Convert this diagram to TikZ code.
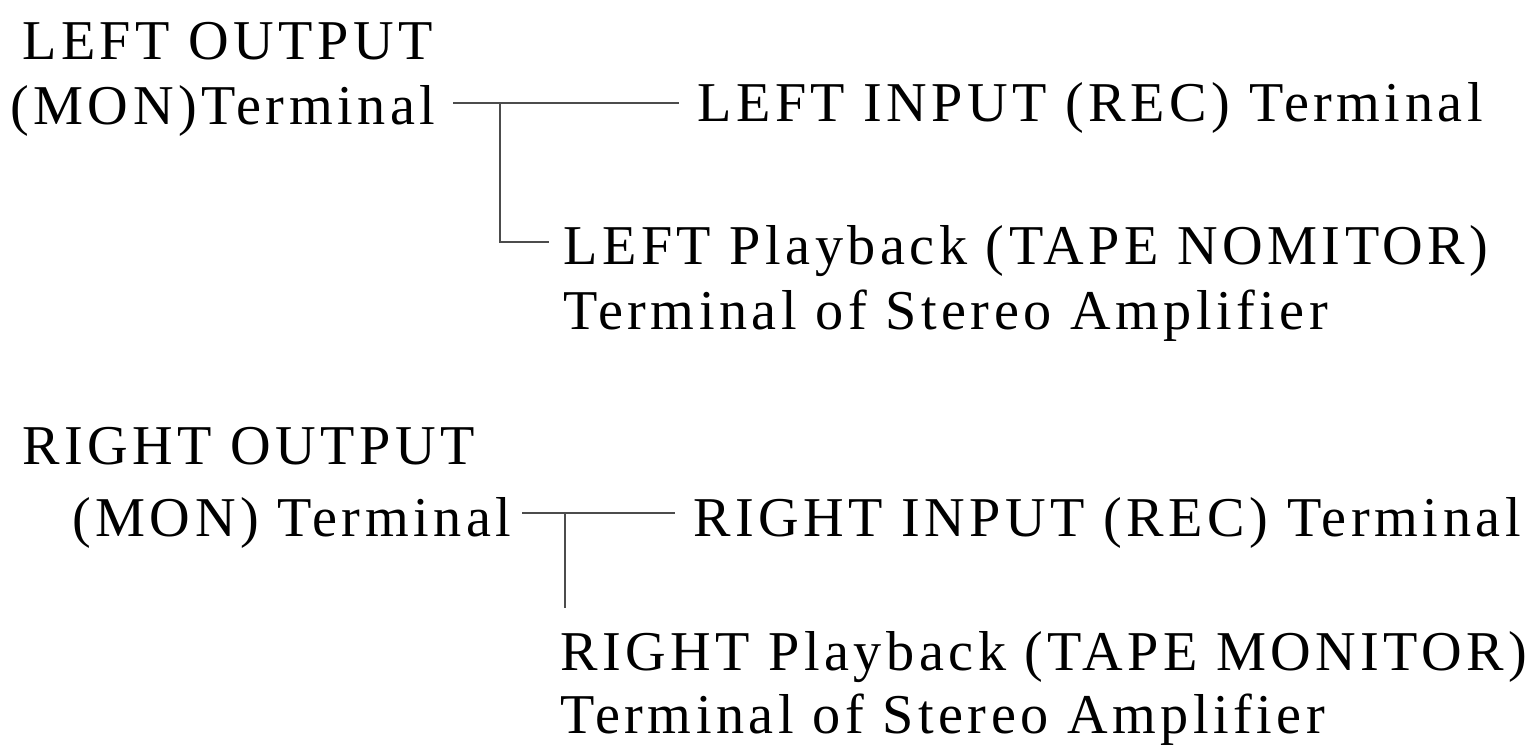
\documentclass[tikz,border=0pt]{standalone}
\usepackage{fontspec}
\setmainfont{Liberation Serif}[LetterSpace=8]
\usetikzlibrary{positioning}

\begin{document}
\begin{tikzpicture}[x=0.02cm,y=-0.02cm,
  lbl/.style={anchor=base west,inner sep=0pt,font=\fontsize{32}{37}\selectfont},
  wire/.style={draw=black!70,line width=0.9pt}]
\useasboundingbox (0,0) rectangle (1538,749);
% left channel
\node[lbl] (lout1) at (22,60) {LEFT OUTPUT};
\node[lbl] (lout2) at (10,125) {(MON)Terminal};
\node[lbl] (lin) at (697,122) {LEFT INPUT (REC) Terminal};
\node[lbl] (lpb1) at (563,265) {LEFT Playback (TAPE NOMITOR)};
\node[lbl] (lpb2) at (563,330) {Terminal of Stereo Amplifier};
\coordinate (lj) at (500,103);
\draw[wire] ([xshift=10]lout2.east |- lj) -- ([xshift=-10]lin.west |- lj);
\draw[wire] (lj) |- ([xshift=-8]lpb1.west |- 0,242);
% right channel
\node[lbl] (rout1) at (22,465) {RIGHT OUTPUT};
\node[lbl] (rout2) at (72,537) {(MON) Terminal};
\node[lbl] (rin) at (693,537) {RIGHT INPUT (REC) Terminal};
\node[lbl] (rpb1) at (560,670) {RIGHT Playback (TAPE MONITOR)};
\node[lbl] (rpb2) at (560,733) {Terminal of Stereo Amplifier};
\coordinate (rj) at (565,513);
\coordinate (rend) at (565,608);
\draw[wire] ([xshift=6]rout2.east |- rj) -- ([xshift=-10]rin.west |- rj);
\draw[wire] (rj) -- (rend);
\end{tikzpicture}
\end{document}
